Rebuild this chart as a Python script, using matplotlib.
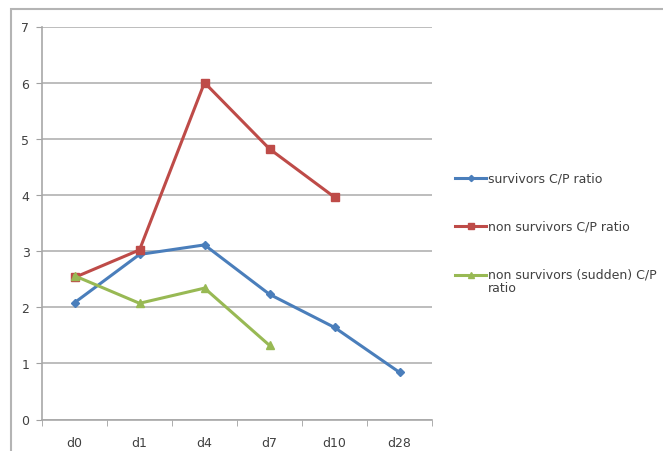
import matplotlib
matplotlib.use("Agg")
import matplotlib.pyplot as plt
from matplotlib.patches import Rectangle
from matplotlib.legend_handler import HandlerLine2D

days = ["d0", "d1", "d4", "d7", "d10", "d28"]
survivors = [2.08, 2.94, 3.11, 2.23, 1.64, 0.84]
non_survivors = [2.53, 3.02, 6.00, 4.82, 3.96]
non_survivors_sudden = [2.56, 2.07, 2.34, 1.32]


class TopAlignedHandler(HandlerLine2D):
    # lines the legend marker up with the first line of a wrapped label
    def __init__(self, dy, **kw):
        super().__init__(**kw)
        self.dy = dy

    def create_artists(self, legend, orig_handle, xdescent, ydescent, width, height,
                       fontsize, trans):
        return super().create_artists(legend, orig_handle, xdescent, ydescent - self.dy,
                                      width, height, fontsize, trans)


W, H = 663, 452
fig = plt.figure(figsize=(W / 100, H / 100), dpi=100)
# chart area frame, running off the right and bottom edges
fig.patches.append(Rectangle((11 / W, -0.05), 1, 1.05 - 10 / H, transform=fig.transFigure,
                             fill=False, ec="#b4b4b4", lw=1.5))

ax = fig.add_axes([42 / W, 1 - 420.5 / H, 390 / W, 393 / H])
x = list(range(len(days)))

ax.plot(x, survivors, color="#4a7ebb", lw=2.2, marker="D", ms=4.5,
        label="survivors C/P ratio")
ax.plot(x[:len(non_survivors)], non_survivors, color="#be4b48", lw=2.2, marker="s", ms=6,
        label="non survivors C/P ratio")
sudden_line, = ax.plot(x[:len(non_survivors_sudden)], non_survivors_sudden, color="#98b954",
                       lw=2.2, marker="^", ms=6, label="non survivors (sudden) C/P\nratio")

ax.set_xlim(-0.5, len(days) - 0.5)
ax.set_ylim(0, 7)
ax.set_yticks(range(0, 8))
ax.set_xticks(x)
ax.set_xticklabels(days)
ax.set_xticks([i + 0.5 for i in range(-1, len(days))], minor=True)
ax.tick_params(axis="x", which="major", length=0, pad=12, labelsize=9, labelcolor="#404040")
ax.tick_params(axis="x", which="minor", length=4, color="#a0a0a0", direction="out")
ax.tick_params(axis="y", length=4, color="#a0a0a0", labelsize=9, labelcolor="#404040", pad=5)
ax.grid(axis="y", color="#bdbdbd", lw=1.4)
ax.set_axisbelow(True)
for side in ["top", "right"]:
    ax.spines[side].set_visible(False)
for side in ["left", "bottom"]:
    ax.spines[side].set_color("#a8a8a8")
    ax.spines[side].set_linewidth(1.2)

leg = fig.legend(loc="upper left", bbox_to_anchor=(455 / W, 1 - 173 / H), frameon=False,
                 fontsize=9, handlelength=2.5, handletextpad=0.1, labelspacing=2.8,
                 borderpad=0, borderaxespad=0, markerscale=0.7, labelcolor="#404040",
                 handler_map={sudden_line: TopAlignedHandler(10)})
for t in leg.get_texts():
    t.set_linespacing(1.05)

fig.savefig("out.png", dpi=100)
